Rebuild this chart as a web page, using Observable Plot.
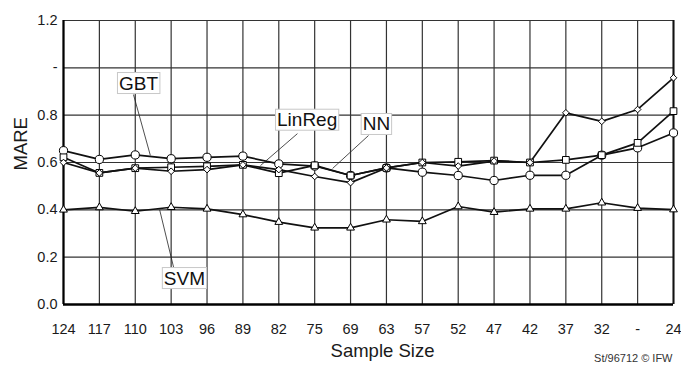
<!DOCTYPE html>
<html><head><meta charset="utf-8">
<script src="https://cdn.jsdelivr.net/npm/d3@7"></script>
<script src="https://cdn.jsdelivr.net/npm/@observablehq/plot@0.6"></script>
<style>
body{margin:0;background:#fff;}
svg{font-family:"Liberation Sans",Arial,sans-serif;}
</style></head><body><div id="chart"></div>
<script>
const categories = ["124","117","110","103","96","89","82","75","69","63","57","52","47","42","37","32","-","24"];
const gbt    = [0.650,0.613,0.632,0.616,0.622,0.627,0.594,0.585,0.545,0.577,0.559,0.545,0.524,0.546,0.546,0.631,0.662,0.725];
const nn     = [0.622,0.556,0.576,0.580,0.584,0.590,0.555,0.588,0.545,0.577,0.600,0.603,0.608,0.600,0.611,0.631,0.683,0.817];
const linreg = [0.600,0.556,0.576,0.563,0.570,0.590,0.570,0.541,0.515,0.577,0.600,0.585,0.606,0.600,0.810,0.774,0.824,0.958];
const svm    = [0.400,0.410,0.394,0.411,0.404,0.380,0.348,0.324,0.324,0.358,0.351,0.414,0.390,0.404,0.404,0.430,0.407,0.401];
const seriesNames = ["GBT","NN","LinReg","SVM"];
const yTicks = [0,0.2,0.4,0.6,0.8,1.0,1.2];
const yTickLabels = ["0.0","0.2","0.4","0.6","0.8","-","1.2"];
const xTitle = "Sample Size";
const yTitle = "MARE";
const credit = "St/96712 \u00A9 IFW";

// series label annotations (in data units: category index, MARE)
const annotations = [
  {name:"GBT",    lx:2.09, ly:0.934, x1:1.95, y1:0.887, x2:2.42, y2:0.630},
  {name:"LinReg", lx:6.79, ly:0.779, x1:6.52, y1:0.722, x2:5.49, y2:0.587},
  {name:"NN",     lx:8.72, ly:0.761, x1:8.50, y1:0.714, x2:7.50, y2:0.575},
  {name:"SVM",    lx:3.37, ly:0.110, x1:2.68, y1:0.400, x2:3.07, y2:0.156}
];

const seriesValues = [gbt, nn, linreg, svm];
const symbols = {GBT:["circle",4.1], NN:["square",3.8], LinReg:["diamond2",3.0], SVM:["triangle",2.9]};
const idx = categories.map((_, i) => i);
const rows = [];
seriesNames.forEach((name, s) => seriesValues[s].forEach((v, i) => rows.push({series:name, i, v})));

const dotMarks = seriesNames.map(name => Plot.dot(rows.filter(r => r.series === name), {
  x:"i", y:"v", symbol: symbols[name][0], r: symbols[name][1], fill:"white", stroke:"black", strokeWidth:1
}));

const chart = Plot.plot({
  width:681, height:365,
  marginLeft:63, marginRight:8, marginTop:20, marginBottom:61,
  style:{fontFamily:"Liberation Sans, Arial, sans-serif", fontSize:"14.5px", color:"#1a1a1a", background:"white"},
  x:{domain:[0, categories.length-1], axis:null},
  y:{domain:[0, 1.2], axis:null},
  marks:[
    Plot.ruleX(idx, {stroke:"#333", strokeWidth:1.2}),
    Plot.ruleY(yTicks, {stroke:"#333", strokeWidth:1.2}),
    Plot.ruleX([0], {stroke:"black", strokeWidth:2.2}),
    Plot.ruleX([categories.length-1], {stroke:"#111", strokeWidth:2}),
    Plot.ruleY([0], {stroke:"black", strokeWidth:2.5}),
    Plot.axisX(idx, {tickSize:0, tickPadding:19, tickFormat: i => categories[i], fontSize:14.5, label:null, fill:"#1a1a1a"}),
    Plot.axisY(yTicks, {tickSize:0, tickPadding:6, tickFormat: d => yTickLabels[yTicks.indexOf(d)], fontSize:14.5, label:null, fill:"#1a1a1a"}),
    Plot.line(rows, {x:"i", y:"v", z:"series", stroke:"#111", strokeWidth:1.7}),
    ...dotMarks,
    Plot.link(annotations, {x1:"x1", y1:"y1", x2:"x2", y2:"y2", stroke:"#222", strokeWidth:0.8}),
    Plot.text(annotations, {x:"lx", y:"ly", text:"name", fontSize:19, fill:"#111"}),
    Plot.text([xTitle], {frameAnchor:"bottom", dx:14, dy:52, fontSize:18.5, fill:"#1a1a1a"}),
    Plot.text([yTitle], {frameAnchor:"left", dx:-42, dy:8, rotate:-90, fontSize:18.5, fill:"#1a1a1a"}),
    Plot.text([credit], {frameAnchor:"bottom-right", dx:-1, dy:57, textAnchor:"end", fontSize:11, fill:"#333"})
  ]
});
document.getElementById("chart").append(chart);

// white boxes behind series labels
const labelSet = new Set(seriesNames);
chart.querySelectorAll("text").forEach(t => {
  if (!labelSet.has(t.textContent)) return;
  const b = t.getBBox();
  const r = document.createElementNS("http://www.w3.org/2000/svg", "rect");
  r.setAttribute("x", b.x - 1.5);
  r.setAttribute("y", b.y);
  r.setAttribute("width", b.width + 3);
  r.setAttribute("height", b.height);
  r.setAttribute("fill", "white");
  r.setAttribute("stroke", "#c8c8c8");
  r.setAttribute("stroke-width", "1");
  if (t.getAttribute("transform")) r.setAttribute("transform", t.getAttribute("transform"));
  t.parentNode.insertBefore(r, t);
});
</script></body></html>
